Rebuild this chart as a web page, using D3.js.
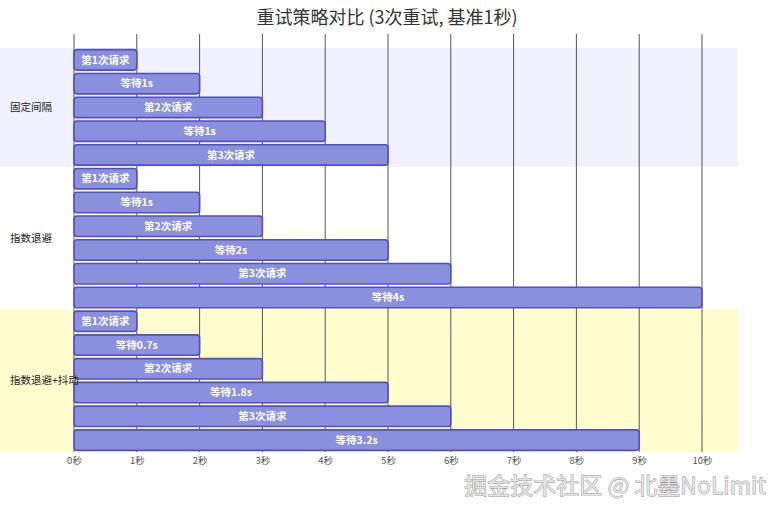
<!DOCTYPE html>
<html>
<head>
<meta charset="utf-8">
<script src="https://cdn.jsdelivr.net/npm/d3@7"></script>
<style>
  body { margin: 0; background: #fff; }
  svg { display: block; font-family: "Noto Sans CJK SC", "Noto Sans", sans-serif; }
</style>
</head>
<body>
<div id="chart"></div>
<script>
// chart data
const sections = ['固定间隔', '指数退避', '指数退避+抖动']
const taskLabels = [
  ['第1次请求', '等待1s', '第2次请求', '等待1s', '第3次请求'],
  ['第1次请求', '等待1s', '第2次请求', '等待2s', '第3次请求', '等待4s'],
  ['第1次请求', '等待0.7s', '第2次请求', '等待1.8s', '第3次请求', '等待3.2s']
]
const taskEnds = [
  [1, 2, 3, 4, 5],
  [1, 2, 3, 5, 6, 10],
  [1, 2, 3, 5, 6, 9]
]
const tickValues = [0, 1, 2, 3, 4, 5, 6, 7, 8, 9, 10]
const sectionColors = ['#f0f0fe', '#ffffff', '#fffdcd']

const width = 784,
  height = 508,
  plotTop = 48,
  plotBottom = 452

let svg = d3.select('#chart')
  .append('svg')
  .attr('width', width)
  .attr('height', height)

// flatten tasks into rows
let rows = []
sections.forEach((s, si) => {
  taskLabels[si].forEach((t, ti) => {
    rows.push({ id: si + '-' + ti, section: si, label: t, end: taskEnds[si][ti] })
  })
})

const xScale = d3.scaleLinear()
  .domain([0, 10])
  .range([74, 702])

const yScale = d3.scaleBand()
  .domain(rows.map(d => d.id))
  .range([plotTop, plotBottom])
  .paddingInner(0.14)
  .paddingOuter(0.07)

const step = yScale.step()

// section backgrounds
svg.selectAll('rect.section')
  .data(rows)
  .enter()
  .append('rect')
  .attr('class', 'section')
  .attr('x', 0)
  .attr('y', d => yScale(d.id) - (step - yScale.bandwidth()) / 2)
  .attr('width', 738)
  .attr('height', step + 0.5)
  .attr('fill', d => sectionColors[d.section])

// grid lines
svg.append('g')
  .selectAll('line')
  .data(tickValues)
  .enter()
  .append('line')
  .attr('x1', d => xScale(d))
  .attr('x2', d => xScale(d))
  .attr('y1', 34)
  .attr('y2', plotBottom)
  .attr('stroke', '#555')
  .attr('stroke-width', 1)

// axis
let axis = svg.append('g')
  .attr('transform', `translate(0,${plotBottom})`)
  .call(d3.axisBottom(xScale).tickValues(tickValues).tickFormat(d => d + '秒').tickSize(0).tickPadding(5))
axis.select('.domain').remove()
axis.selectAll('text')
  .attr('fill', '#555')
  .attr('font-size', 9.5)
  .attr('font-family', '"Noto Sans CJK SC", sans-serif')

// bars
svg.selectAll('rect.bar')
  .data(rows)
  .enter()
  .append('rect')
  .attr('class', 'bar')
  .attr('x', xScale(0))
  .attr('y', d => yScale(d.id))
  .attr('width', d => xScale(d.end) - xScale(0))
  .attr('height', yScale.bandwidth())
  .attr('rx', 3)
  .attr('fill', '#8a90dd')
  .attr('stroke', '#534fbc')
  .attr('stroke-width', 1.6)

svg.selectAll('text.bar-label')
  .data(rows)
  .enter()
  .append('text')
  .attr('class', 'bar-label')
  .attr('x', d => (xScale(0) + xScale(d.end)) / 2)
  .attr('y', d => yScale(d.id) + yScale.bandwidth() / 2)
  .attr('dy', '0.35em')
  .attr('text-anchor', 'middle')
  .attr('fill', '#fff')
  .attr('font-size', 10.5)
  .attr('font-weight', 'bold')
  .text(d => d.label)

// section titles
svg.selectAll('text.section-title')
  .data(sections)
  .enter()
  .append('text')
  .attr('class', 'section-title')
  .attr('x', 10)
  .attr('y', (d, i) => {
    let ids = rows.filter(r => r.section === i)
    let y0 = yScale(ids[0].id), y1 = yScale(ids[ids.length - 1].id) + yScale.bandwidth()
    return (y0 + y1) / 2
  })
  .attr('dy', '0.35em')
  .attr('fill', '#222')
  .attr('font-size', 10.5)
  .text(d => d)

// title
svg.append('text')
  .attr('x', 387)
  .attr('y', 18)
  .attr('dy', '0.35em')
  .attr('text-anchor', 'middle')
  .attr('fill', '#333')
  .attr('font-size', 18)
  .text('重试策略对比 (3次重试, 基准1秒)')

// watermark
svg.append('text')
  .attr('x', 766)
  .attr('y', 486)
  .attr('dy', '0.35em')
  .attr('text-anchor', 'end')
  .attr('font-size', 23)
  .attr('fill', '#e4e4e4')
  .attr('stroke', '#8a8a8a')
  .attr('stroke-width', 0.8)
  .attr('paint-order', 'stroke')
  .text('掘金技术社区 @ 北墨NoLimit')
</script>
</body>
</html>
